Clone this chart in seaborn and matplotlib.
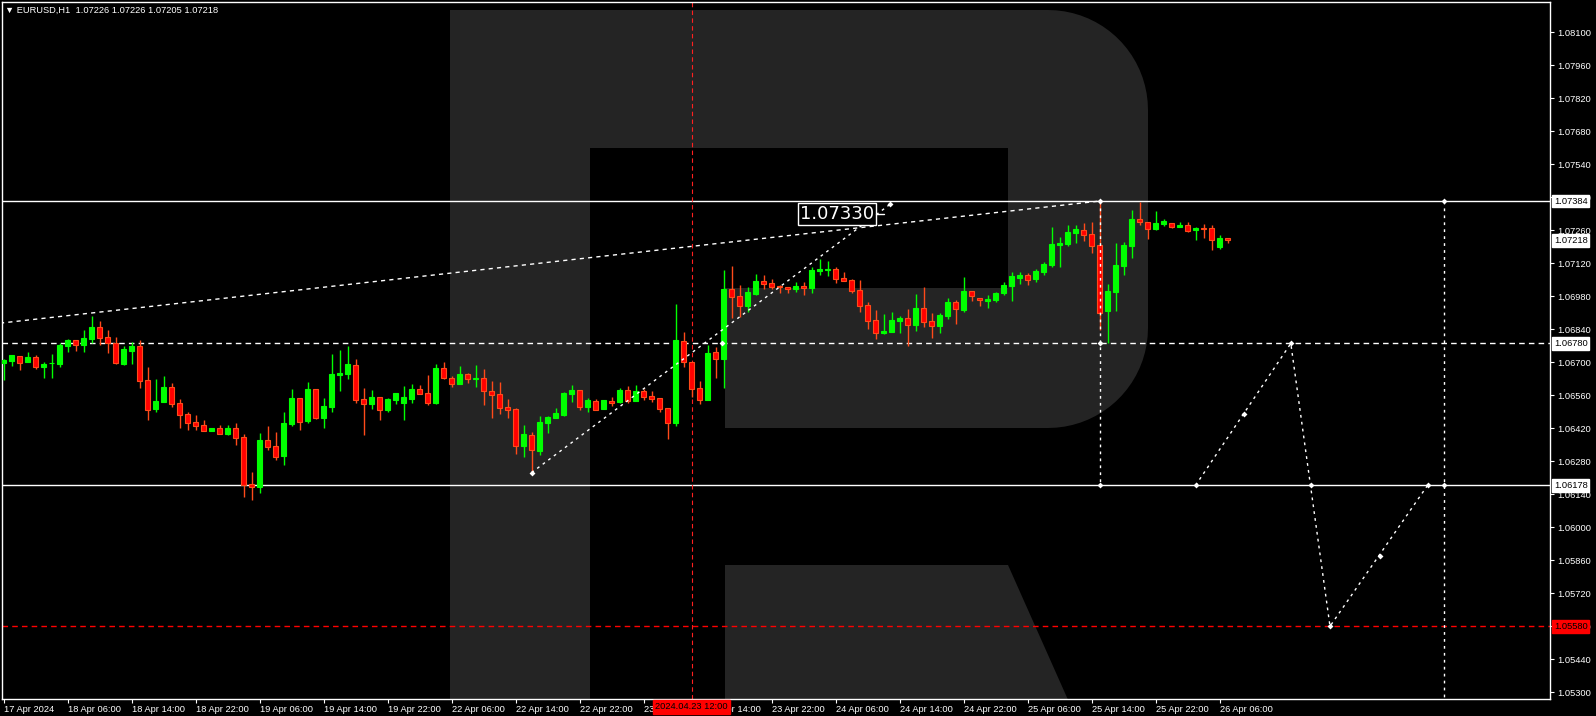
import numpy as np
import matplotlib
matplotlib.use("Agg")
import matplotlib.pyplot as plt
import matplotlib.transforms as mtransforms
from matplotlib.patches import Polygon
import seaborn as sns

# EURUSD H1 candles, 17 Apr 22:00 .. 26 Apr 07:00
opens = [1.06698, 1.06705, 1.06727, 1.06701, 1.06722, 1.06680, 1.06696, 1.06693, 1.06771, 1.06795,
         1.06775, 1.06800, 1.06850, 1.06807, 1.06780, 1.06693, 1.06748, 1.06769, 1.06625, 1.06502,
         1.06533, 1.06595, 1.06526, 1.06481, 1.06447, 1.06434, 1.06410, 1.06421, 1.06397, 1.06421,
         1.06383, 1.06184, 1.06172, 1.06370, 1.06345, 1.06304, 1.06440, 1.06549, 1.06452, 1.06587,
         1.06465, 1.06512, 1.06647, 1.06652, 1.06689, 1.06544, 1.06524, 1.06553, 1.06499, 1.06541,
         1.06529, 1.06544, 1.06587, 1.06570, 1.06527, 1.06676, 1.06633, 1.06609, 1.06650, 1.06630,
         1.06633, 1.06578, 1.06565, 1.06510, 1.06502, 1.06346, 1.06392, 1.06325, 1.06444, 1.06465,
         1.06476, 1.06567, 1.06582, 1.06512, 1.06536, 1.06503, 1.06536, 1.06531, 1.06582, 1.06536,
         1.06578, 1.06557, 1.06549, 1.06506, 1.06444, 1.06790, 1.06701, 1.06591, 1.06540, 1.06744,
         1.06714, 1.07011, 1.06981, 1.06939, 1.06990, 1.07045, 1.07036, 1.07025, 1.07019, 1.07012,
         1.07024, 1.07017, 1.07087, 1.07093, 1.07096, 1.07058, 1.07049, 1.07007, 1.06943, 1.06879,
         1.06826, 1.06830, 1.06877, 1.06888, 1.06860, 1.06930, 1.06875, 1.06855, 1.06896, 1.06956,
         1.06923, 1.07001, 1.06973, 1.06962, 1.06964, 1.06994, 1.07024, 1.07058, 1.07070, 1.07053,
         1.07083, 1.07113, 1.07199, 1.07202, 1.07249, 1.07261, 1.07244, 1.07198, 1.06919, 1.07000,
         1.07109, 1.07193, 1.07308, 1.07295, 1.07266, 1.07287, 1.07291, 1.07275, 1.07283, 1.07261,
         1.07270, 1.07270, 1.07190, 1.07226]
highs = [1.06713, 1.06731, 1.06727, 1.06744, 1.06730, 1.06701, 1.06735, 1.06783, 1.06799, 1.06795,
         1.06837, 1.06896, 1.06875, 1.06837, 1.06807, 1.06769, 1.06788, 1.06795, 1.06680, 1.06629,
         1.06642, 1.06612, 1.06544, 1.06489, 1.06476, 1.06455, 1.06421, 1.06434, 1.06434, 1.06442,
         1.06396, 1.06235, 1.06399, 1.06430, 1.06404, 1.06489, 1.06587, 1.06549, 1.06616, 1.06587,
         1.06549, 1.06735, 1.06752, 1.06769, 1.06714, 1.06591, 1.06582, 1.06553, 1.06549, 1.06570,
         1.06599, 1.06608, 1.06604, 1.06646, 1.06693, 1.06701, 1.06642, 1.06684, 1.06655, 1.06689,
         1.06672, 1.06621, 1.06616, 1.06544, 1.06506, 1.06434, 1.06404, 1.06472, 1.06472, 1.06506,
         1.06574, 1.06604, 1.06582, 1.06549, 1.06544, 1.06540, 1.06553, 1.06591, 1.06599, 1.06604,
         1.06587, 1.06578, 1.06549, 1.06506, 1.06947, 1.06828, 1.06701, 1.06621, 1.06773, 1.06765,
         1.07092, 1.07108, 1.07028, 1.07019, 1.07075, 1.07070, 1.07053, 1.07028, 1.07019, 1.07041,
         1.07042, 1.07103, 1.07138, 1.07130, 1.07104, 1.07083, 1.07053, 1.07049, 1.06956, 1.06922,
         1.06905, 1.06913, 1.06896, 1.06926, 1.06990, 1.07019, 1.06909, 1.06909, 1.06973, 1.06964,
         1.07062, 1.07001, 1.06973, 1.06986, 1.06998, 1.07041, 1.07083, 1.07083, 1.07079, 1.07096,
         1.07126, 1.07274, 1.07232, 1.07283, 1.07283, 1.07291, 1.07295, 1.07374, 1.07032, 1.07206,
         1.07210, 1.07346, 1.07380, 1.07295, 1.07342, 1.07308, 1.07291, 1.07295, 1.07295, 1.07274,
         1.07287, 1.07283, 1.07240, 1.07226]
lows = [1.06625, 1.06684, 1.06667, 1.06701, 1.06673, 1.06633, 1.06633, 1.06680, 1.06744, 1.06748,
        1.06744, 1.06783, 1.06773, 1.06741, 1.06694, 1.06689, 1.06693, 1.06592, 1.06457, 1.06491,
        1.06533, 1.06512, 1.06423, 1.06414, 1.06414, 1.06410, 1.06410, 1.06397, 1.06392, 1.06350,
        1.06130, 1.06116, 1.06147, 1.06329, 1.06287, 1.06266, 1.06431, 1.06414, 1.06444, 1.06461,
        1.06423, 1.06491, 1.06580, 1.06629, 1.06529, 1.06393, 1.06503, 1.06457, 1.06491, 1.06524,
        1.06457, 1.06529, 1.06567, 1.06520, 1.06524, 1.06629, 1.06597, 1.06609, 1.06612, 1.06597,
        1.06520, 1.06465, 1.06482, 1.06465, 1.06312, 1.06300, 1.06232, 1.06308, 1.06401, 1.06465,
        1.06474, 1.06533, 1.06499, 1.06490, 1.06499, 1.06503, 1.06516, 1.06527, 1.06527, 1.06536,
        1.06540, 1.06531, 1.06489, 1.06376, 1.06431, 1.06680, 1.06554, 1.06524, 1.06540, 1.06635,
        1.06592, 1.06889, 1.06894, 1.06913, 1.06985, 1.07011, 1.07011, 1.06995, 1.06995, 1.06998,
        1.06987, 1.06995, 1.07072, 1.07066, 1.07038, 1.07046, 1.06995, 1.06915, 1.06843, 1.06800,
        1.06821, 1.06830, 1.06824, 1.06770, 1.06834, 1.06851, 1.06804, 1.06826, 1.06885, 1.06864,
        1.06915, 1.06962, 1.06940, 1.06932, 1.06957, 1.06987, 1.06962, 1.07032, 1.07028, 1.07041,
        1.07070, 1.07104, 1.07104, 1.07193, 1.07206, 1.07215, 1.07164, 1.06837, 1.06780, 1.06919,
        1.07072, 1.07143, 1.07283, 1.07223, 1.07261, 1.07280, 1.07271, 1.07275, 1.07253, 1.07219,
        1.07227, 1.07176, 1.07180, 1.07205]
closes = [1.06711, 1.06731, 1.06698, 1.06722, 1.06681, 1.06693, 1.06697, 1.06773, 1.06795, 1.06775,
          1.06803, 1.06850, 1.06805, 1.06780, 1.06698, 1.06756, 1.06769, 1.06622, 1.06499, 1.06536,
          1.06595, 1.06524, 1.06478, 1.06444, 1.06431, 1.06410, 1.06421, 1.06397, 1.06421, 1.06380,
          1.06179, 1.06172, 1.06370, 1.06342, 1.06300, 1.06442, 1.06549, 1.06448, 1.06587, 1.06465,
          1.06515, 1.06650, 1.06653, 1.06693, 1.06541, 1.06524, 1.06553, 1.06499, 1.06544, 1.06570,
          1.06553, 1.06587, 1.06567, 1.06529, 1.06676, 1.06633, 1.06609, 1.06650, 1.06629, 1.06633,
          1.06580, 1.06563, 1.06508, 1.06499, 1.06346, 1.06396, 1.06329, 1.06447, 1.06468, 1.06485,
          1.06570, 1.06582, 1.06512, 1.06540, 1.06499, 1.06540, 1.06527, 1.06582, 1.06536, 1.06578,
          1.06553, 1.06544, 1.06503, 1.06444, 1.06795, 1.06703, 1.06587, 1.06540, 1.06739, 1.06714,
          1.07011, 1.06978, 1.06939, 1.06998, 1.07045, 1.07033, 1.07021, 1.07021, 1.07012, 1.07024,
          1.07017, 1.07092, 1.07096, 1.07096, 1.07055, 1.07046, 1.07004, 1.06940, 1.06877, 1.06826,
          1.06834, 1.06879, 1.06888, 1.06860, 1.06930, 1.06872, 1.06855, 1.06901, 1.06956, 1.06928,
          1.07003, 1.06983, 1.06963, 1.06969, 1.06994, 1.07028, 1.07066, 1.07070, 1.07049, 1.07087,
          1.07117, 1.07202, 1.07208, 1.07253, 1.07266, 1.07240, 1.07193, 1.06909, 1.07003, 1.07113,
          1.07198, 1.07308, 1.07295, 1.07266, 1.07291, 1.07300, 1.07274, 1.07283, 1.07257, 1.07270,
          1.07267, 1.07219, 1.07226, 1.07218]

date_ticks = [0, 8, 16, 24, 32, 40, 48, 56, 64, 72, 80, 88, 96, 104, 112, 120, 128, 136, 144, 152]
date_labels = ["17 Apr 2024", "18 Apr 06:00", "18 Apr 14:00", "18 Apr 22:00", "19 Apr 06:00",
               "19 Apr 14:00", "19 Apr 22:00", "22 Apr 06:00", "22 Apr 14:00", "22 Apr 22:00",
               "23 Apr 06:00", "23 Apr 14:00", "23 Apr 22:00", "24 Apr 06:00", "24 Apr 14:00",
               "24 Apr 22:00", "25 Apr 06:00", "25 Apr 14:00", "25 Apr 22:00", "26 Apr 06:00"]
price_ticks = [1.08100, 1.07960, 1.07820, 1.07680, 1.07540, 1.07400, 1.07260, 1.07120, 1.06980,
               1.06840, 1.06700, 1.06560, 1.06420, 1.06280, 1.06140, 1.06000, 1.05860, 1.05720,
               1.05580, 1.05440, 1.05300]

# horizontal levels
level_high = 1.07384
level_mid = 1.06780
level_low = 1.06178
level_target = 1.05580
label_price = 1.07330
last_price = 1.07218

# trend line and forecast path (bar index, price)
trend_x = [-0.45, 137]
trend_y = [1.06866, 1.07384]
rise_x = [66, 110.8]
rise_y = [1.06232, 1.07370]
fall_x = [149, 160.9, 165.8, 178]
fall_y = [1.06178, 1.06780, 1.05580, 1.06178]
mark_x = [66, 89.8, 110.8, 137, 137, 137, 149, 155, 160.9, 163.4, 165.8, 172, 178, 180, 180]
mark_y = [1.06232, 1.06780, 1.07370, 1.07384, 1.06780, 1.06178, 1.06178, 1.06480, 1.06780,
          1.06178, 1.05580, 1.05880, 1.06178, 1.06178, 1.07384]
vline_a = 137
vline_b = 180
cross_bar = 86
cross_label = "2024.04.23 12:00"
header = "\u25bc EURUSD,H1  1.07226 1.07226 1.07205 1.07218"

W, H = 1596, 716
sns.set_theme(style="dark", rc={"axes.facecolor": "black", "figure.facecolor": "black",
                                "axes.edgecolor": "white", "text.color": "white",
                                "xtick.color": "white", "ytick.color": "white"})
plt.rcParams['font.family'] = ['Liberation Sans', 'DejaVu Sans']

fig = plt.figure(figsize=(W / 100, H / 100), dpi=100)
ax = fig.add_axes([2 / W, 17 / H, 1548 / W, 697 / H])
ax.set_xlim(-0.2, 193.3)
ax.set_ylim(1.052715, 1.082285)

# watermark logo, in pixel space
pix = mtransforms.Affine2D().scale(1 / W, -1 / H).translate(0, 1) + fig.transFigure


def arc(cx, cy, r, a0, a1, n=20):
    t = np.radians(np.linspace(a0, a1, n))
    return [(cx + r * np.cos(t_), cy - r * np.sin(t_)) for t_ in t]


r = 100
body = [(450, 720), (450, 10)] + arc(1148 - r, 10 + r, r, 90, 0) + arc(1148 - r, 428 - r, r, 0, -90) + \
       [(725, 428), (725, 288), (1008, 288), (1008, 148), (590, 148), (590, 720)]
leg = [(725, 565), (1008, 565), (1077, 720), (725, 720)]
for shape in (body, leg):
    ax.add_patch(Polygon(shape, closed=True, transform=pix, facecolor='#242424',
                         edgecolor='none', zorder=0, clip_on=True))

# levels
ax.axhline(level_high, color='white', lw=1, zorder=2)
ax.axhline(level_low, color='white', lw=1, zorder=2)
ax.axhline(level_mid, color='white', lw=1, ls=(0, (4, 3)), zorder=2)
ax.axhline(level_target, color='#ff0000', lw=1, ls=(0, (4, 3)), zorder=2)
ax.axvline(cross_bar, color='#ff2020', lw=0.8, ls=(0, (4, 3)), zorder=2)

# trend line and forecast
ax.plot(trend_x, trend_y, color='white', lw=1, ls=(0, (3, 3)), zorder=2)
ax.plot(rise_x, rise_y, color='white', lw=1, ls=(0, (2, 3)), zorder=4)
ax.plot(fall_x, fall_y, color='white', lw=1, ls=(0, (2, 3)), zorder=4)
ax.plot([vline_a, vline_a], [level_high, level_low], color='white', lw=1, ls=(0, (2, 3)), zorder=4)
ax.plot([vline_b, vline_b], [level_high, 1.0527], color='white', lw=1, ls=(0, (2, 3)), zorder=4)
sns.scatterplot(x=mark_x, y=mark_y, ax=ax, color='white', marker='D', s=9, linewidth=0, zorder=5)

# candles
x = np.arange(len(opens))
o = np.array(opens)
c = np.array(closes)
up = c >= o
ax.vlines(x[up], np.array(lows)[up], np.array(highs)[up], color='#00ff00', lw=1, zorder=3)
ax.vlines(x[~up], np.array(lows)[~up], np.array(highs)[~up], color='#ff4a1a', lw=1, zorder=3)
ax.bar(x[up], (c - o)[up], bottom=o[up], width=0.55, color='#00ff00', edgecolor='#00ff00',
       linewidth=0.8, zorder=3)
ax.bar(x[~up], (o - c)[~up], bottom=c[~up], width=0.55, color='#ff0000', edgecolor='#ff4a1a',
       linewidth=0.8, zorder=3)

# target label
ax.text(108.8, label_price, f"{label_price:.5f}", fontsize=13, color='white', ha='right', va='center',
        family='DejaVu Sans', zorder=6,
        bbox=dict(boxstyle='square,pad=0.1', facecolor='black', edgecolor='white', linewidth=1))
ax.plot([109.0, 110.0], [label_price, label_price], color='white', lw=1, zorder=6)

# axes styling
for s in ax.spines.values():
    s.set_color('white')
    s.set_linewidth(1)
ax.grid(False)
ax.yaxis.tick_right()
ax.set_yticks(price_ticks)
ax.set_yticklabels([f"{p:.5f}" for p in price_ticks])
ax.set_xticks(date_ticks)
ax.set_xticklabels(date_labels)
ax.tick_params(axis='y', direction='out', length=3, width=0.8, pad=2, labelsize=6.7,
               colors='white', right=True, left=False)
ax.tick_params(axis='x', direction='out', length=3, width=0.8, pad=1, labelsize=6.7,
               colors='white', bottom=True)
for lab in ax.get_xticklabels():
    lab.set_ha('left')

# price boxes on the right axis
yb = mtransforms.blended_transform_factory(ax.transAxes, ax.transData)
for p in (level_high, last_price, level_mid, level_low):
    ax.text(1.0025, p, f"{p:.5f}", transform=yb, fontsize=6.7, color='black', ha='left', va='center',
            zorder=7, clip_on=False,
            bbox=dict(boxstyle='square,pad=0.2', facecolor='white', edgecolor='white'))
ax.text(1.0025, level_target, f"{level_target:.5f}", transform=yb, fontsize=6.7, color='black',
        ha='left', va='center', zorder=7, clip_on=False,
        bbox=dict(boxstyle='square,pad=0.2', facecolor='#ff0000', edgecolor='#ff0000'))

# crosshair date box
xb = mtransforms.blended_transform_factory(ax.transData, ax.transAxes)
ax.text(cross_bar, -0.005, cross_label, transform=xb, fontsize=6.7, color='black', ha='center',
        va='top', zorder=7, clip_on=False,
        bbox=dict(boxstyle='square,pad=0.25', facecolor='#ff0000', edgecolor='#ff0000'))

fig.text(5 / W, 1 - 10 / H, header, fontsize=6.7, color='white', ha='left', va='center')

fig.savefig("out.png", dpi=100, facecolor='black')
